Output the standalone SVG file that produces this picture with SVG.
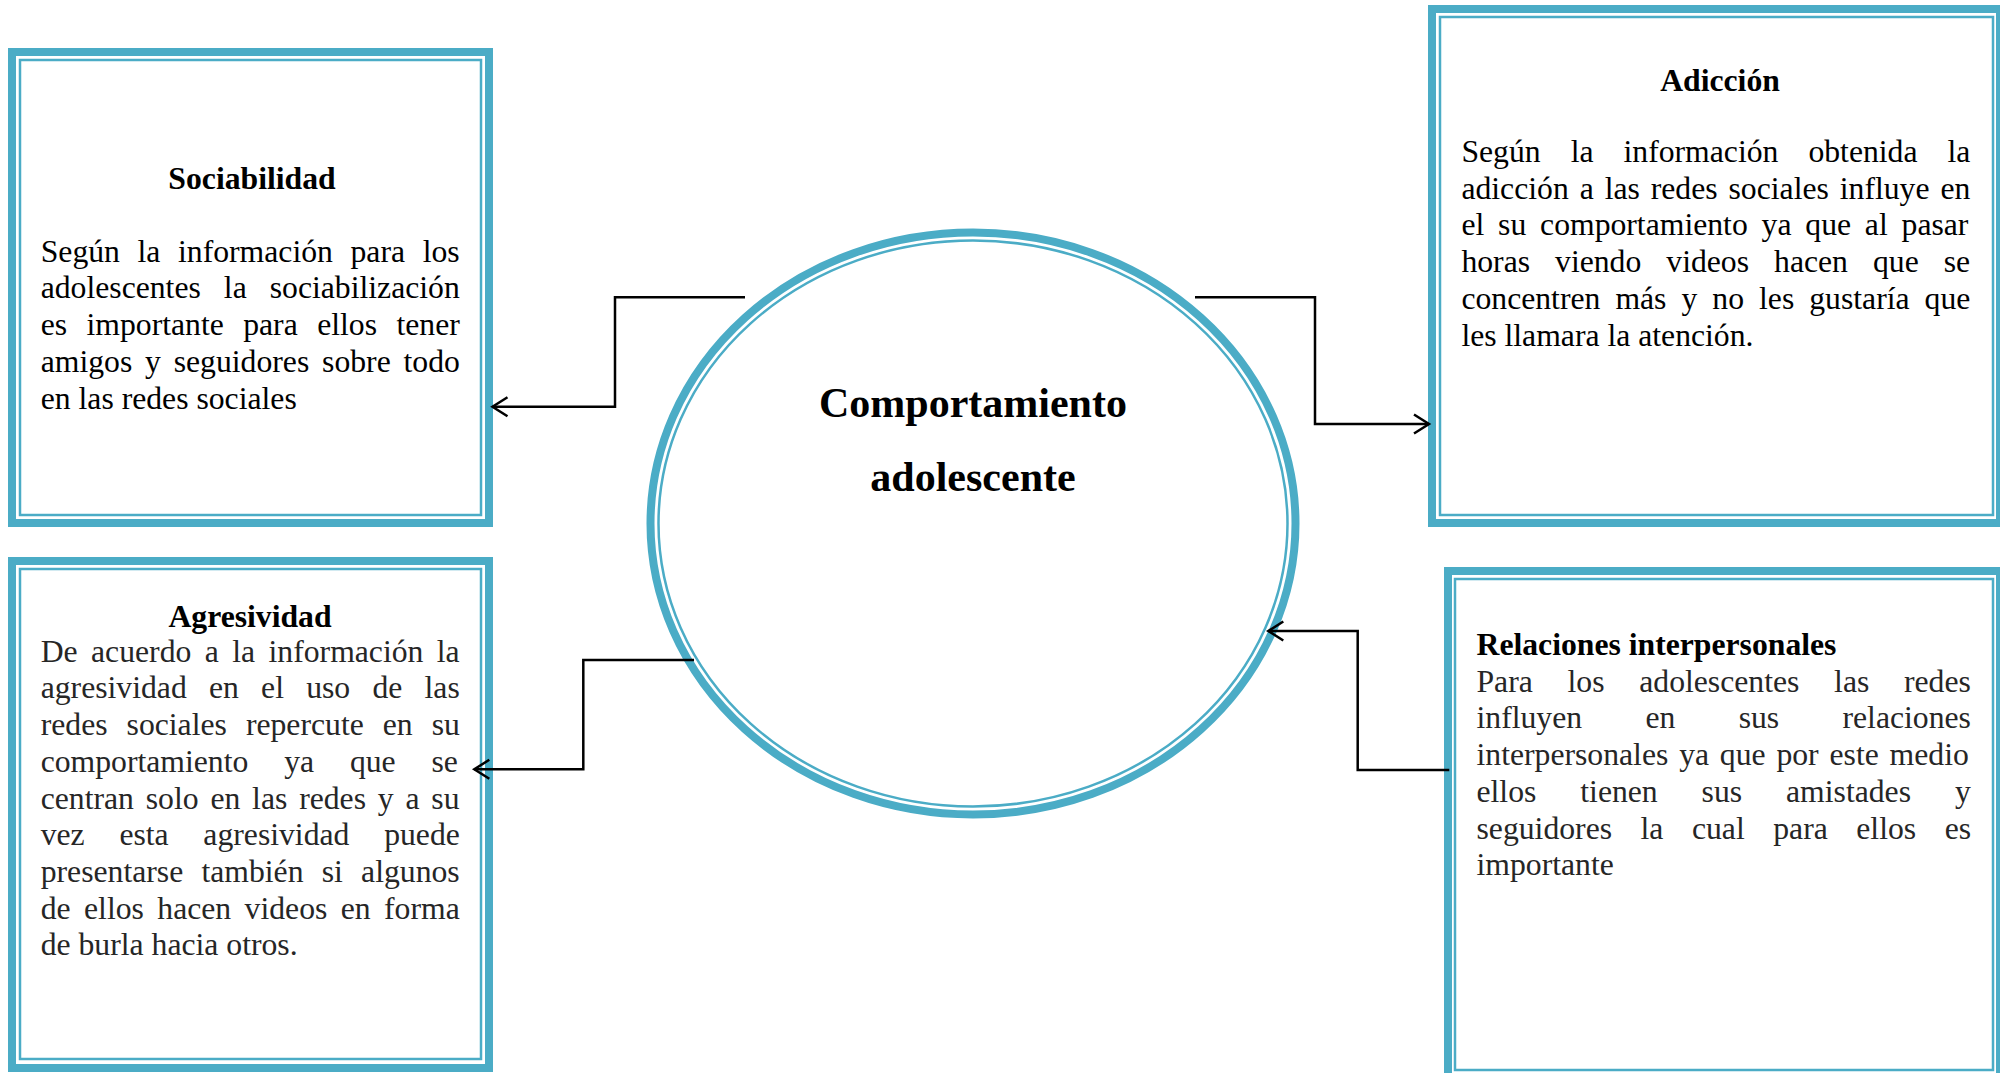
<svg xmlns="http://www.w3.org/2000/svg" width="2000" height="1073" viewBox="0 0 2000 1073">
<style>
.thick{fill:none;stroke:#4BACC6;stroke-width:8}
.thin{fill:none;stroke:#4BACC6;stroke-width:2.5}
.t{font-family:"Liberation Serif","Times New Roman",serif;font-size:31.7px;fill:#000}
.g{fill:#262626}
.h{font-family:"Liberation Serif","Times New Roman",serif;font-size:31.7px;font-weight:bold;fill:#000}
.c{font-family:"Liberation Serif","Times New Roman",serif;font-size:42px;font-weight:bold;fill:#000;text-anchor:middle}
.conn{fill:none;stroke:#000;stroke-width:2.5}
</style>
<defs>
<marker id="arr" markerUnits="userSpaceOnUse" viewBox="-18 -12 20 24" refX="0" refY="0" markerWidth="20" markerHeight="24" orient="auto" overflow="visible">
<path d="M -15 -9.5 L 0 0 L -15 9.5" fill="none" stroke="#000" stroke-width="2.5"/>
</marker>
</defs>
<rect width="2000" height="1073" fill="#fff"/>

<g id="node-sociabilidad">
<rect class="thick" x="12" y="52" width="477" height="471"/>
<rect class="thin" x="20" y="60" width="461" height="455"/>
<text class="h" x="252" y="189" text-anchor="middle">Sociabilidad</text>
<text class="t" x="40.7" y="261.7" style="word-spacing:9.7px">Según la información para los</text>
<text class="t" x="40.7" y="298.4" style="word-spacing:15.1px">adolescentes la sociabilización</text>
<text class="t" x="40.7" y="335.1" style="word-spacing:11.5px">es importante para ellos tener</text>
<text class="t" x="40.7" y="371.8" style="word-spacing:4.9px">amigos y seguidores sobre todo</text>
<text class="t" x="40.7" y="408.5">en las redes sociales</text>
</g>

<g id="node-agresividad">
<rect class="thick" x="12" y="561" width="477" height="507"/>
<rect class="thin" x="20" y="569" width="461" height="490"/>
<text class="h" x="250" y="626.7" text-anchor="middle">Agresividad</text>
<text class="t g" x="40.7" y="661.7" style="word-spacing:5.5px">De acuerdo a la información la</text>
<text class="t g" x="40.7" y="698.4" style="word-spacing:14.3px">agresividad en el uso de las</text>
<text class="t g" x="40.7" y="735.1" style="word-spacing:11.1px">redes sociales repercute en su</text>
<text class="t g" x="40.7" y="771.8" style="word-spacing:27.9px">comportamiento ya que se</text>
<text class="t g" x="40.7" y="808.5" style="word-spacing:3.9px">centran solo en las redes y a su</text>
<text class="t g" x="40.7" y="845.2" style="word-spacing:26.8px">vez esta agresividad puede</text>
<text class="t g" x="40.7" y="881.9" style="word-spacing:10.3px">presentarse también si algunos</text>
<text class="t g" x="40.7" y="918.6" style="word-spacing:5.5px">de ellos hacen videos en forma</text>
<text class="t g" x="40.7" y="955.3">de burla hacia otros.</text>
</g>

<g id="node-adiccion">
<rect class="thick" x="1432" y="9" width="568" height="514"/>
<rect class="thin" x="1440" y="17" width="553" height="498"/>
<text class="h" x="1720" y="91" text-anchor="middle">Adicción</text>
<text class="t" x="1461.4" y="162" style="word-spacing:22.1px">Según la información obtenida la</text>
<text class="t" x="1461.4" y="198.7" style="word-spacing:3px">adicción a las redes sociales influye en</text>
<text class="t" x="1461.4" y="235.4" style="word-spacing:5.9px">el su comportamiento ya que al pasar</text>
<text class="t" x="1461.4" y="272.1" style="word-spacing:17.1px">horas viendo videos hacen que se</text>
<text class="t" x="1461.4" y="308.8" style="word-spacing:7.1px">concentren más y no les gustaría que</text>
<text class="t" x="1461.4" y="345.5">les llamara la atención.</text>
</g>

<g id="node-relaciones">
<rect class="thick" x="1448" y="571" width="552" height="508"/>
<rect class="thin" x="1455" y="579" width="538" height="491"/>
<text class="h" x="1476.5" y="655">Relaciones interpersonales</text>
<text class="t g" x="1476.5" y="691.7" style="word-spacing:26.8px">Para los adolescentes las redes</text>
<text class="t g" x="1476.5" y="728.4" style="word-spacing:55.4px">influyen en sus relaciones</text>
<text class="t g" x="1476.5" y="765.1" style="word-spacing:2.9px">interpersonales ya que por este medio</text>
<text class="t g" x="1476.5" y="801.8" style="word-spacing:36px">ellos tienen sus amistades y</text>
<text class="t g" x="1476.5" y="838.5" style="word-spacing:20.6px">seguidores la cual para ellos es</text>
<text class="t g" x="1476.5" y="875.2">importante</text>
</g>

<g id="node-comportamiento">
<ellipse class="thick" cx="973" cy="523.5" rx="322.5" ry="291"/>
<ellipse class="thin" cx="973" cy="523.5" rx="314.5" ry="283"/>
<text class="c" x="973" y="417">Comportamiento</text>
<text class="c" x="973" y="491">adolescente</text>
</g>

<g id="connectors">
<path class="conn" d="M 745 297.3 H 615 V 406.7 H 492.5" marker-end="url(#arr)"/>
<path class="conn" d="M 1195 297.3 H 1315 V 424 H 1429" marker-end="url(#arr)"/>
<path class="conn" d="M 694 660 H 583.3 V 769.3 H 474.3" marker-end="url(#arr)"/>
<path class="conn" d="M 1449.3 770 H 1357.7 V 631 H 1268.3" marker-end="url(#arr)"/>
</g>
</svg>
